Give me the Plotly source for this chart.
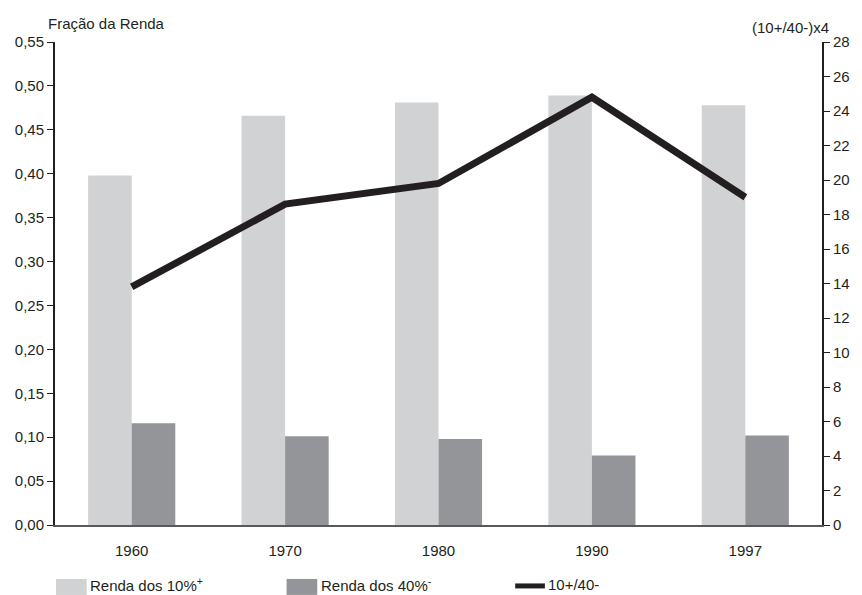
import plotly.graph_objects as go

years = ["1960", "1970", "1980", "1990", "1997"]
renda_top10 = [0.398, 0.466, 0.481, 0.489, 0.478]
renda_bottom40 = [0.116, 0.101, 0.098, 0.079, 0.102]
razao = [13.8, 18.6, 19.8, 24.8, 19.0]
left_ticks = [0, 0.05, 0.10, 0.15, 0.20, 0.25, 0.30, 0.35, 0.40, 0.45, 0.50, 0.55]
right_ticks = list(range(0, 29, 2))

FONT = "Liberation Sans, Arial, sans-serif"
FS = 15
LIGHT = "#d1d2d4"
DARK = "#939598"
LINE = "#231f20"

fig = go.Figure()
fig.add_trace(go.Bar(x=years, y=renda_top10, name="Renda dos 10%+",
                     marker=dict(color=LIGHT, line=dict(width=0))))
fig.add_trace(go.Bar(x=years, y=renda_bottom40, name="Renda dos 40%-",
                     marker=dict(color=DARK, line=dict(width=0))))
fig.add_trace(go.Scatter(x=years, y=razao, name="10+/40-", yaxis="y2",
                         mode="lines", line=dict(color=LINE, width=7)))

W, H = 862, 595
L, R, T, B = 55, 32, 41.5, 70
pw = W - L - R
ph = H - T - B

def px(x):
    return (x - L) / pw

def py(y):
    return (H - B - y) / ph

shapes = [
    dict(type="rect", xref="paper", yref="paper", x0=px(56), x1=px(87), y0=py(579), y1=py(595),
         fillcolor=LIGHT, line=dict(width=0)),
    dict(type="rect", xref="paper", yref="paper", x0=px(289), x1=px(320), y0=py(579), y1=py(595),
         fillcolor=DARK, line=dict(width=0)),
    dict(type="line", xref="paper", yref="paper", x0=px(520), x1=px(550), y0=py(586), y1=py(586),
         line=dict(color=LINE, width=5)),
]

annotations = [
    dict(text="Fração da Renda", xref="paper", yref="paper", x=px(46), y=py(23),
         xanchor="left", yanchor="middle", showarrow=False, font=dict(size=FS)),
    dict(text="(10+/40-)x4", xref="paper", yref="paper", x=px(839), y=py(27),
         xanchor="right", yanchor="middle", showarrow=False, font=dict(size=FS)),
    dict(text="Renda dos 10%<sup>+</sup>", xref="paper", yref="paper", x=px(88), y=py(585),
         xanchor="left", yanchor="middle", showarrow=False, font=dict(size=FS)),
    dict(text="Renda dos 40%<sup>-</sup>", xref="paper", yref="paper", x=px(322), y=py(585),
         xanchor="left", yanchor="middle", showarrow=False, font=dict(size=FS)),
    dict(text="10+/40-", xref="paper", yref="paper", x=px(551), y=py(585),
         xanchor="left", yanchor="middle", showarrow=False, font=dict(size=FS)),
]

fig.update_layout(
    width=W, height=H,
    margin=dict(l=L, r=R, t=T, b=B, pad=0),
    paper_bgcolor="white", plot_bgcolor="white",
    font=dict(family=FONT, size=FS, color="#231f20"),
    separators=",.",
    showlegend=False,
    barmode="group", bargap=0.432, bargroupgap=0,
    shapes=shapes, annotations=annotations,
    xaxis=dict(type="category", showline=True, linecolor="#58595b", linewidth=2,
               ticks="", showgrid=False, zeroline=False, ticklabelstandoff=11),
    yaxis=dict(range=[0, 0.55], tickvals=left_ticks, tickformat=".2f", ticks="outside",
               ticklen=6, tickwidth=1, tickcolor="#231f20", showline=True,
               linecolor="#231f20", linewidth=2, showgrid=False, zeroline=False),
    yaxis2=dict(range=[0, 28], tickvals=right_ticks, overlaying="y", side="right",
                ticks="outside", ticklen=6, tickwidth=1, tickcolor="#231f20",
                showline=True, linecolor="#231f20", linewidth=2, showgrid=False,
                zeroline=False),
)

fig.write_html(
    "out.html",
    config={"displayModeBar": False, "staticPlot": True},
    post_script="document.body.style.margin='0px';document.body.style.padding='0px';"
                "document.body.style.overflow='hidden';",
)
